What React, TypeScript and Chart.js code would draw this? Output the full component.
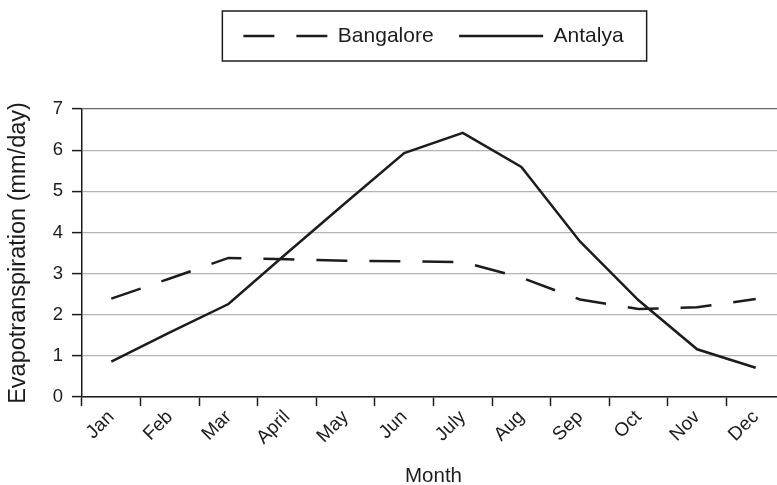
import React, { useEffect, useRef } from "react";
import { Chart, registerables } from "chart.js";

Chart.register(...registerables);

const months = ["Jan", "Feb", "Mar", "April", "May", "Jun", "July", "Aug", "Sep", "Oct", "Nov", "Dec"];
const bangalore = [2.39, 2.88, 3.38, 3.35, 3.31, 3.3, 3.28, 2.9, 2.37, 2.14, 2.18, 2.38];
const antalya = [0.86, 1.57, 2.26, 3.5, 4.72, 5.93, 6.42, 5.59, 3.78, 2.35, 1.16, 0.71];
const yTicks = [0, 1, 2, 3, 4, 5, 6, 7];

const FONT = "'Liberation Sans', Arial, Helvetica, sans-serif";
const INK = "#1c1c1c";
const DASH = [31, 22];

const legendPlugin = {
  id: "legendBoxAndSpace",
  beforeLayout(chart: any) {
    const lg = chart.legend;
    if (lg && !lg._patched) {
      const orig = lg.fit.bind(lg);
      lg.fit = () => {
        orig();
        lg.height += 52.5;
      };
      lg._patched = true;
    }
  },
  afterDraw(chart: any) {
    const lg = chart.legend;
    if (!lg || !lg.legendHitBoxes || !lg.legendHitBoxes.length) return;
    const hb = lg.legendHitBoxes;
    const first = hb[0];
    const last = hb[hb.length - 1];
    const ctx = chart.ctx;
    ctx.save();
    ctx.strokeStyle = INK;
    ctx.lineWidth = 1.5;
    const l = first.left - 21;
    const r = last.left + last.width + 23;
    const t = first.top - 14.5;
    const b = first.top + first.height + 14.5;
    ctx.strokeRect(l, t, r - l, b - t);
    ctx.restore();
  },
};

export default function App() {
  const ref = useRef<HTMLCanvasElement | null>(null);
  useEffect(() => {
    if (!ref.current) return;
    const chart = new Chart(ref.current, {
      type: "line",
      data: {
        labels: months,
        datasets: [
          {
            label: "Bangalore",
            data: bangalore,
            borderColor: INK,
            backgroundColor: INK,
            borderWidth: 2.5,
            borderDash: DASH,
            pointRadius: 0,
            tension: 0,
            fill: false,
          },
          {
            label: "Antalya",
            data: antalya,
            borderColor: INK,
            backgroundColor: INK,
            borderWidth: 2.5,
            pointRadius: 0,
            tension: 0,
            fill: false,
          },
        ],
      },
      plugins: [legendPlugin],
      options: {
        animation: false,
        responsive: false,
        maintainAspectRatio: false,
        layout: { padding: { top: 0, left: 0, right: 15, bottom: 0 } },
        plugins: {
          legend: {
            display: true,
            position: "top",
            fullSize: false,
            labels: {
              usePointStyle: true,
              pointStyle: "line",
              pointStyleWidth: 84,
              boxWidth: 84,
              padding: 25.5,
              color: INK,
              font: { family: FONT, size: 21 },
              generateLabels(chart: any) {
                const items = Chart.defaults.plugins.legend.labels.generateLabels(chart);
                return items.map((it: any) => {
                  const ds = chart.data.datasets[it.datasetIndex];
                  return {
                    ...it,
                    lineDash: ds.borderDash || [],
                    lineWidth: 2.5,
                    strokeStyle: INK,
                    fillStyle: INK,
                    pointStyle: "line",
                  };
                });
              },
            },
          },
          tooltip: { enabled: false },
        },
        scales: {
          x: {
            type: "category",
            offset: true,
            afterFit(scale: any) {
              scale.height = 88;
            },
            grid: {
              display: true,
              drawOnChartArea: false,
              offset: true,
              drawTicks: true,
              tickLength: 9,
              color: INK,
              tickColor: INK,
              tickWidth: 1.5,
            },
            border: { display: true, color: INK, width: 1.5 },
            ticks: {
              color: INK,
              font: { family: FONT, size: 19 },
              maxRotation: 45,
              minRotation: 45,
              padding: 0,
              autoSkip: false,
            },
            title: {
              display: true,
              text: "Month",
              color: INK,
              font: { family: FONT, size: 20.5, lineHeight: 0.85 },
              padding: { top: 0, bottom: 0 },
            },
          },
          y: {
            min: 0,
            max: 7,
            afterFit(scale: any) {
              scale.width = 82;
            },
            afterBuildTicks(scale: any) {
              scale.ticks = yTicks.map((v) => ({ value: v }));
            },
            grid: {
              display: true,
              drawTicks: true,
              tickLength: 10,
              color: (c: any) => (c.tick && c.tick.value === 7 ? "#666" : "#b4b4b4"),
              lineWidth: 1.2,
              tickColor: INK,
              tickWidth: 1.5,
            },
            border: { display: true, color: INK, width: 1.5 },
            ticks: {
              color: INK,
              font: { family: FONT, size: 18.5 },
              padding: 9,
              stepSize: 1,
            },
            title: {
              display: true,
              text: "Evapotranspiration (mm/day)",
              color: INK,
              font: { family: FONT, size: 23.5, lineHeight: 1.2 },
              padding: { top: 4, bottom: 0 },
            },
          },
        },
      },
    } as any);
    return () => chart.destroy();
  }, []);

  return (
    <div
      style={{
        position: "fixed",
        left: 0,
        top: 0,
        width: 777,
        height: 485,
        overflow: "hidden",
        background: "#fff",
      }}
    >
      <canvas ref={ref} width={800} height={485} style={{ width: 800, height: 485, display: "block" }} />
    </div>
  );
}
